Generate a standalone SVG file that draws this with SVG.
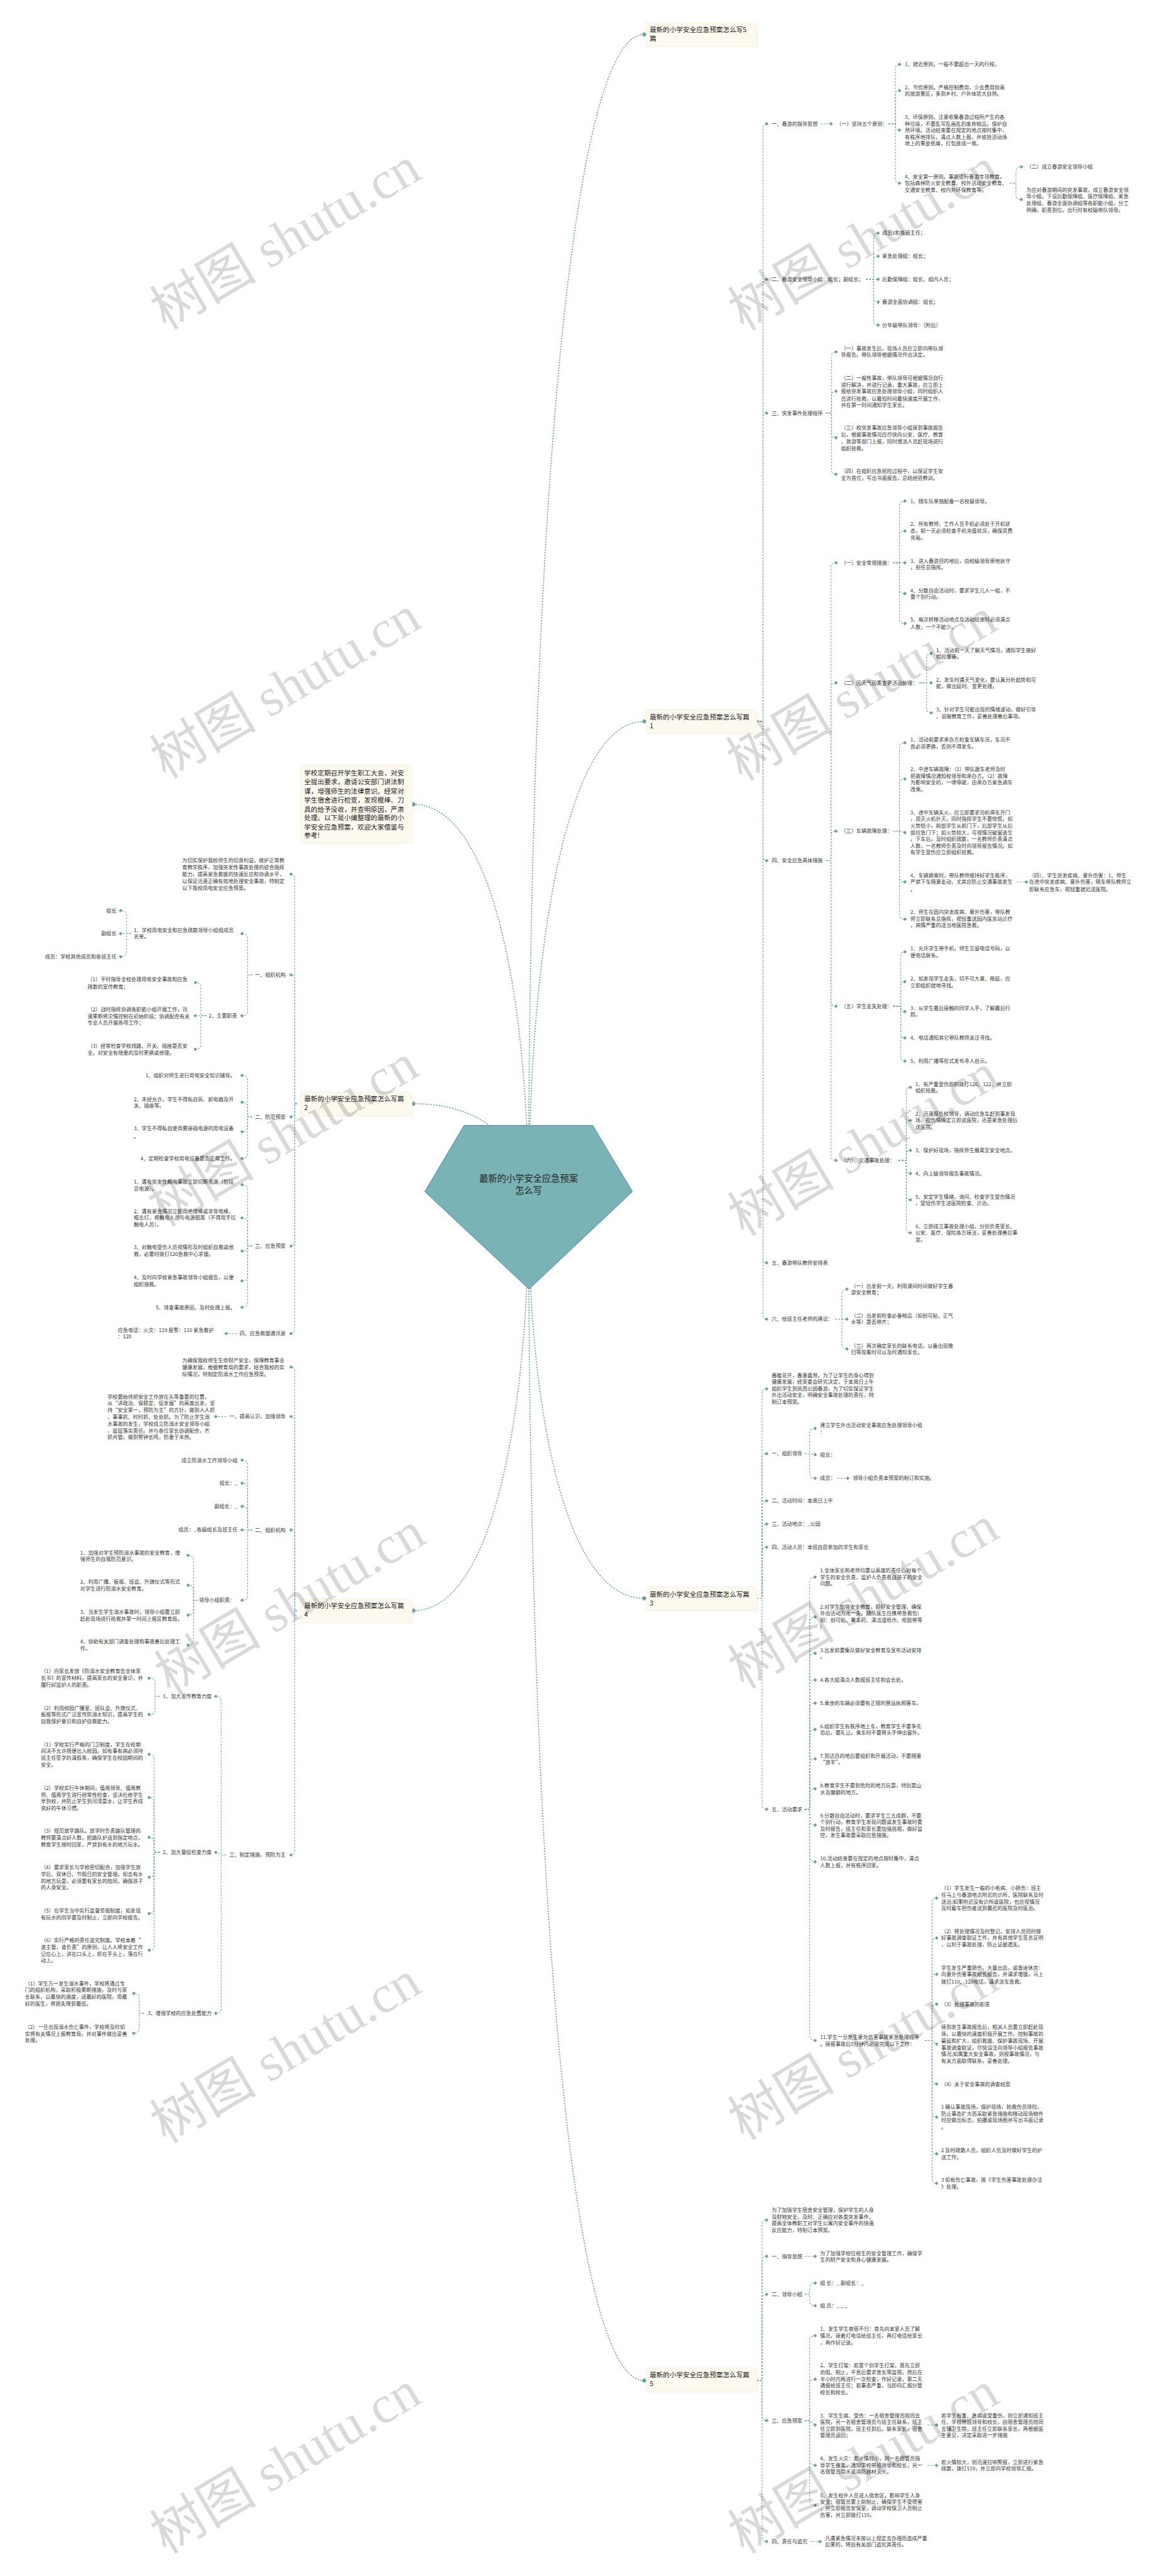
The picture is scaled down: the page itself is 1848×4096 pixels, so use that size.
<svg xmlns="http://www.w3.org/2000/svg" width="1848" height="4096" viewBox="0 0 1848 4096">
<style>
.t{font-family:"Noto Sans CJK SC","Noto Sans",sans-serif;font-size:11.3px;fill:#333}
.b{font-family:"Noto Sans CJK SC","Noto Sans",sans-serif;font-size:14.7px;fill:#222}
.c{font-family:"Noto Sans CJK SC","Noto Sans",sans-serif;font-size:19.8px;fill:#222;text-anchor:middle}
.e{text-anchor:end}
.box{fill:#fcf9ee;stroke:#eee7d2;stroke-width:1}
.w{font-family:"Liberation Serif","Noto Sans CJK SC",serif;font-size:118px;fill:#000;fill-opacity:.15;text-anchor:middle}
#connectors path{fill:none;stroke:#6a9fa0;stroke-width:1.4;stroke-dasharray:4 3;marker-end:url(#dm)}
#connectors #main path{stroke-width:2.2;stroke-dasharray:3 3;marker-end:url(#dM)}
</style>
<defs>
<marker id="dm" viewBox="-5 -5 10 10" refX="0" refY="0" markerWidth="8" markerHeight="8" markerUnits="userSpaceOnUse" orient="0"><path d="M0-5L5 0 0 5-5 0Z" fill="#6a9fa0"/></marker>
<marker id="dM" viewBox="-5 -5 10 10" refX="0" refY="0" markerWidth="11" markerHeight="11" markerUnits="userSpaceOnUse" orient="0"><path d="M0-5L5 0 0 5-5 0Z" fill="#6a9fa0"/></marker>
</defs>
<rect width="1848" height="4096" fill="#fff"/>
<g transform="scale(0.721)">
<g id="connectors">
<g id="main">
<path d="M1166 2660C1166 1368 1242 76 1421 76"/>
<path d="M1166 2660C1166 2126 1242 1591 1421 1591"/>
<path d="M1166 2660C1166 2217 1090 1774 912 1774"/>
<path d="M1166 2660C1166 2547 1090 2434 912 2434"/>
<path d="M1166 2660C1166 3093 1242 3525 1421 3525"/>
<path d="M1166 2660C1166 3106 1090 3552 912 3552"/>
<path d="M1166 2660C1166 3955 1242 5250 1421 5250"/>
</g>
<path d="M1670 1591H1683V283Q1683 273 1691 273"/>
<path d="M1670 1591H1683V626Q1683 616 1691 616"/>
<path d="M1670 1591H1683V921Q1683 911 1691 911"/>
<path d="M1670 1591H1683V1888Q1683 1898 1691 1898"/>
<path d="M1670 1591H1683V2775Q1683 2785 1691 2785"/>
<path d="M1670 1591H1683V2899Q1683 2909 1691 2909"/>
<path d="M1810 273H1833"/>
<path d="M1960 273H1975V152Q1975 142 1984 142"/>
<path d="M1960 273H1975V210Q1975 200 1984 200"/>
<path d="M1960 273H1975V277Q1975 287 1984 287"/>
<path d="M1960 273H1975V394Q1975 404 1984 404"/>
<path d="M2228 404H2241V378Q2241 368 2253 368"/>
<path d="M2228 404H2241V430Q2241 440 2253 440"/>
<path d="M1910 616H1927V524Q1927 514 1937 514"/>
<path d="M1910 616H1927V575Q1927 565 1937 565"/>
<path d="M1910 616H1937"/>
<path d="M1910 616H1927V656Q1927 666 1937 666"/>
<path d="M1910 616H1927V707Q1927 717 1937 717"/>
<path d="M1822 911H1834V786Q1834 776 1844 776"/>
<path d="M1822 911H1834V873Q1834 863 1844 863"/>
<path d="M1822 911H1834V955Q1834 965 1844 965"/>
<path d="M1822 911H1834V1036Q1834 1046 1844 1046"/>
<path d="M1822 1898H1833V1251Q1833 1241 1844 1241"/>
<path d="M1822 1898H1833V1516Q1833 1506 1844 1506"/>
<path d="M1822 1898H1833V1843Q1833 1833 1844 1833"/>
<path d="M1822 1898H1833V2209Q1833 2219 1844 2219"/>
<path d="M1822 1898H1833V2549Q1833 2559 1844 2559"/>
<path d="M1970 1241H1984V1115Q1984 1105 1996 1105"/>
<path d="M1970 1241H1984V1181Q1984 1171 1996 1171"/>
<path d="M1970 1241H1996"/>
<path d="M1970 1241H1984V1299Q1984 1309 1996 1309"/>
<path d="M1970 1241H1984V1365Q1984 1375 1996 1375"/>
<path d="M2028 1506H2044V1451Q2044 1441 2054 1441"/>
<path d="M2028 1506H2054"/>
<path d="M2028 1506H2044V1562Q2044 1572 2054 1572"/>
<path d="M1970 1833H1984V1648Q1984 1638 1996 1638"/>
<path d="M1970 1833H1984V1728Q1984 1718 1996 1718"/>
<path d="M1970 1833H1984L1996 1836"/>
<path d="M1970 1833H1984V1935Q1984 1945 1996 1945"/>
<path d="M1970 1833H1984V2017Q1984 2027 1996 2027"/>
<path d="M2243 1945H2264"/>
<path d="M1970 2219H1987V2109Q1987 2099 1996 2099"/>
<path d="M1970 2219H1987V2175Q1987 2165 1996 2165"/>
<path d="M1970 2219H1987V2221Q1987 2231 1996 2231"/>
<path d="M1970 2219H1987V2279Q1987 2289 1996 2289"/>
<path d="M1970 2219H1987V2330Q1987 2340 1996 2340"/>
<path d="M1982 2559H1999V2408Q1999 2398 2008 2398"/>
<path d="M1982 2559H1999V2481Q1999 2471 2008 2471"/>
<path d="M1982 2559H1999V2547Q1999 2537 2008 2537"/>
<path d="M1982 2559H1999V2578Q1999 2588 2008 2588"/>
<path d="M1982 2559H1999V2636Q1999 2646 2008 2646"/>
<path d="M1982 2559H1999V2709Q1999 2719 2008 2719"/>
<path d="M1842 2909H1857V2853Q1857 2843 1868 2843"/>
<path d="M1842 2909H1868"/>
<path d="M1842 2909H1857V2965Q1857 2975 1868 2975"/>
<path d="M1670 3525H1681V3073Q1681 3063 1691 3063"/>
<path d="M1670 3525H1681V3216Q1681 3206 1691 3206"/>
<path d="M1670 3525H1681V3320Q1681 3310 1691 3310"/>
<path d="M1670 3525H1681V3371Q1681 3361 1691 3361"/>
<path d="M1670 3525H1681V3422Q1681 3412 1691 3412"/>
<path d="M1670 3525H1681V3980Q1681 3990 1691 3990"/>
<path d="M1775 3206H1786V3160Q1786 3150 1798 3150"/>
<path d="M1775 3206H1786L1798 3208"/>
<path d="M1775 3206H1786V3250Q1786 3260 1798 3260"/>
<path d="M1847 3260H1870"/>
<path d="M1775 3990H1786V3488Q1786 3478 1798 3478"/>
<path d="M1775 3990H1786V3576Q1786 3566 1798 3566"/>
<path d="M1775 3990H1786V3656Q1786 3646 1798 3646"/>
<path d="M1775 3990H1786V3715Q1786 3705 1798 3705"/>
<path d="M1775 3990H1786V3766Q1786 3756 1798 3756"/>
<path d="M1775 3990H1786V3824Q1786 3814 1798 3814"/>
<path d="M1775 3990H1786V3889Q1786 3879 1798 3879"/>
<path d="M1775 3990H1786V3955Q1786 3945 1798 3945"/>
<path d="M1775 3990H1786V4015Q1786 4025 1798 4025"/>
<path d="M1775 3990H1786V4096Q1786 4106 1798 4106"/>
<path d="M1775 3990H1786V4490Q1786 4500 1798 4500"/>
<path d="M2040 4500H2056V4196Q2056 4186 2066 4186"/>
<path d="M2040 4500H2056V4284Q2056 4274 2066 4274"/>
<path d="M2040 4500H2056V4364Q2056 4354 2066 4354"/>
<path d="M2040 4500H2056V4430Q2056 4420 2066 4420"/>
<path d="M2040 4500H2056L2066 4508"/>
<path d="M2040 4500H2056V4586Q2056 4596 2066 4596"/>
<path d="M2040 4500H2056V4659Q2056 4669 2066 4669"/>
<path d="M2040 4500H2056V4740Q2056 4750 2066 4750"/>
<path d="M2040 4500H2056V4805Q2056 4815 2066 4815"/>
<path d="M1670 5250H1681V4906Q1681 4896 1691 4896"/>
<path d="M1670 5250H1681V4986Q1681 4976 1691 4976"/>
<path d="M1670 5250H1681V5070Q1681 5060 1691 5060"/>
<path d="M1670 5250H1681V5328Q1681 5338 1691 5338"/>
<path d="M1670 5250H1681V5595Q1681 5605 1691 5605"/>
<path d="M1775 4976H1798"/>
<path d="M1775 5060H1786V5045Q1786 5035 1798 5035"/>
<path d="M1775 5060H1786V5075Q1786 5085 1798 5085"/>
<path d="M1775 5338H1786V5161Q1786 5151 1798 5151"/>
<path d="M1775 5338H1786V5257Q1786 5247 1798 5247"/>
<path d="M1775 5338H1786L1798 5348"/>
<path d="M1775 5338H1786V5427Q1786 5437 1798 5437"/>
<path d="M1775 5338H1786V5515Q1786 5525 1798 5525"/>
<path d="M2046 5348H2066"/>
<path d="M2046 5437H2066"/>
<path d="M1787 5605H1809"/>
<path d="M655 2434H650V1938Q650 1928 642 1928"/>
<path d="M655 2434H650V2160Q650 2150 642 2150"/>
<path d="M655 2434H650V2453Q650 2463 642 2463"/>
<path d="M655 2434H650V2738Q650 2748 642 2748"/>
<path d="M655 2434H650V2931Q650 2941 642 2941"/>
<path d="M556 2150H546V2069Q546 2059 534 2059"/>
<path d="M556 2150H546V2230Q546 2240 534 2240"/>
<path d="M289 2059H279V2018Q279 2008 266 2008"/>
<path d="M289 2059H266"/>
<path d="M289 2059H279V2100Q279 2110 266 2110"/>
<path d="M455 2240H443V2177Q443 2167 431 2167"/>
<path d="M455 2240H431"/>
<path d="M455 2240H443V2304Q443 2314 431 2314"/>
<path d="M556 2463H546V2382Q546 2372 534 2372"/>
<path d="M556 2463H546V2441Q546 2431 534 2431"/>
<path d="M556 2463H546V2486Q546 2496 534 2496"/>
<path d="M556 2463H546V2545Q546 2555 534 2555"/>
<path d="M556 2748H546V2623Q546 2613 534 2613"/>
<path d="M556 2748H546V2696Q546 2686 534 2686"/>
<path d="M556 2748H546V2749Q546 2759 534 2759"/>
<path d="M556 2748H546V2815Q546 2825 534 2825"/>
<path d="M556 2748H546V2873Q546 2883 534 2883"/>
<path d="M522 2941H499"/>
<path d="M655 3552H650V3025Q650 3015 642 3015"/>
<path d="M655 3552H650V3134Q650 3124 642 3124"/>
<path d="M655 3552H650V3384Q650 3374 642 3374"/>
<path d="M655 3552H650V4081Q650 4091 642 4091"/>
<path d="M499 3124H476"/>
<path d="M556 3374H546V3230Q546 3220 534 3220"/>
<path d="M556 3374H546V3281Q546 3271 534 3271"/>
<path d="M556 3374H546V3332Q546 3322 534 3322"/>
<path d="M556 3374H534"/>
<path d="M556 3374H546V3519Q546 3529 534 3529"/>
<path d="M436 3529H427V3440Q427 3430 415 3430"/>
<path d="M436 3529H427V3506Q427 3496 415 3496"/>
<path d="M436 3529H427V3552Q427 3562 415 3562"/>
<path d="M436 3529H427V3618Q427 3628 415 3628"/>
<path d="M499 4091H488V3751Q488 3741 476 3741"/>
<path d="M499 4091H488L476 4085"/>
<path d="M499 4091H488V4430Q488 4440 476 4440"/>
<path d="M352 3741H342V3711Q342 3701 329 3701"/>
<path d="M352 3741H342V3771Q342 3781 329 3781"/>
<path d="M352 4085H340V3879Q340 3869 329 3869"/>
<path d="M352 4085H340V3974Q340 3964 329 3964"/>
<path d="M352 4085H340V4062Q340 4052 329 4052"/>
<path d="M352 4085H340V4130Q340 4140 329 4140"/>
<path d="M352 4085H340V4210Q340 4220 329 4220"/>
<path d="M352 4085H340V4291Q340 4301 329 4301"/>
<path d="M318 4440H307V4406Q307 4396 295 4396"/>
<path d="M318 4440H307V4474Q307 4484 295 4484"/>
</g>

<g id="n-center">
<path d="M1023.6 2482H1307.5L1395 2628L1167 2843L937 2628Z" fill="#7ab3b5" stroke="#3f74b5" stroke-width="1.2"/>
<text class="c" x="1166" y="2606">最新的小学安全应急预案</text>
<text class="c" x="1166" y="2632">怎么写</text>
</g>

<g id="n-intro">
<path class="box" d="M663 1687H901L909 1695V1860H663Z"/>
<text class="b"><tspan x="671" y="1710">学校定期召开学生职工大会，对安</tspan><tspan x="671" y="1730">全提出要求，邀请公安部门讲法制</tspan><tspan x="671" y="1750">课，增强师生的法律意识。经常对</tspan><tspan x="671" y="1770">学生宿舍进行检查，发现棍棒、刀</tspan><tspan x="671" y="1790">具的给予没收，并查明原因，严肃</tspan><tspan x="671" y="1809">处理。以下是小编整理的最新的小</tspan><tspan x="671" y="1829">学安全应急预案，欢迎大家借鉴与</tspan><tspan x="671" y="1848">参考!</tspan></text>
</g>

<g id="n-top">
<path class="box" d="M1426 50H1662L1670 58V103H1426Z"/>
<text class="b"><tspan x="1433" y="71">最新的小学安全应急预案怎么写5</tspan><tspan x="1433" y="90.5">篇</tspan></text>
</g>

<g id="n-p1">
<path class="box" d="M1426 1565H1662L1670 1573V1617H1426Z"/>
<text class="b"><tspan x="1433" y="1586">最新的小学安全应急预案怎么写篇</tspan><tspan x="1433" y="1605.5">1</tspan></text>
</g>
<g id="n-p1-1"><text class="t" x="1702" y="277">一、春游的指导思想</text></g>
<g id="n-p1-1-1"><text class="t" x="1845" y="277">（一）坚持五个原则：</text></g>
<g id="n-p1-1-1-1"><text class="t" x="1996" y="146">1、就近原则。一般不要超出一天的行程。</text></g>
<g id="n-p1-1-1-2"><text class="t"><tspan x="1996" y="197">2、节俭原则。严格控制费用，少去费用较高</tspan><tspan x="1996" y="211">的旅游景区，多到乡村、户外体验大自然。</tspan></text></g>
<g id="n-p1-1-1-3"><text class="t"><tspan x="1996" y="262">3、环保原则。注意收集春游过程所产生的各</tspan><tspan x="1996" y="277">种垃圾，不要乱写乱画乱扔废弃物品，保护自</tspan><tspan x="1996" y="291">然环境。活动结束要在规定的地点按时集中，</tspan><tspan x="1996" y="306">有秩序地排队，清点人数上报，并收拾活动场</tspan><tspan x="1996" y="320">地上的果皮纸屑，打包放成一堆。</tspan></text></g>
<g id="n-p1-1-1-4"><text class="t"><tspan x="1996" y="394">4、安全第一原则。事前进行春游专项教育，</tspan><tspan x="1996" y="408">包括森林防火安全教育、校外活动安全教育、</tspan><tspan x="1996" y="423">交通安全教育、校内外环保教育等。</tspan></text></g>
<g id="n-p1-1-1-4-1"><text class="t" x="2264" y="372">（二）成立春游安全领导小组</text></g>
<g id="n-p1-1-1-4-2"><text class="t"><tspan x="2264" y="423">为应对春游期间的突发事故，成立春游安全领</tspan><tspan x="2264" y="437">导小组。下设后勤保障组、医疗保障组、紧急</tspan><tspan x="2264" y="452">处理组、春游全面协调组等各职能小组，分工</tspan><tspan x="2264" y="467">明确，职责到位。出行时有校级带队领导。</tspan></text></g>
<g id="n-p1-2"><text class="t" x="1702" y="620">二、春游安全领导小组：组长；副组长；</text></g>
<g id="n-p1-2-1"><text class="t" x="1946" y="518">成员z和各班主任；</text></g>
<g id="n-p1-2-2"><text class="t" x="1946" y="569">紧急处理组：组长；</text></g>
<g id="n-p1-2-3"><text class="t" x="1946" y="620">后勤保障组：组长，组内人员；</text></g>
<g id="n-p1-2-4"><text class="t" x="1946" y="670">春游全面协调组：组长；</text></g>
<g id="n-p1-2-5"><text class="t" x="1946" y="721">分年级带队领导：（附后）</text></g>
<g id="n-p1-3"><text class="t" x="1702" y="915">三、突发事件处理程序</text></g>
<g id="n-p1-3-1"><text class="t"><tspan x="1855" y="772">（一）事故发生后，现场人员应立即向带队领</tspan><tspan x="1855" y="787">导报告。带队领导根据情况作出决定。</tspan></text></g>
<g id="n-p1-3-2"><text class="t"><tspan x="1855" y="838">（二）一般性事故，带队领导可根据情况自行</tspan><tspan x="1855" y="853">进行解决，并进行记录。重大事故，应立即上</tspan><tspan x="1855" y="867">报给突发事故应急处理领导小组，同时组织人</tspan><tspan x="1855" y="883">员进行抢救，以最短时间最快速度开展工作，</tspan><tspan x="1855" y="897">并在第一时间通知学生家长。</tspan></text></g>
<g id="n-p1-3-3"><text class="t"><tspan x="1855" y="947">（三）校突发事故应急领导小组接到事故报告</tspan><tspan x="1855" y="963">后，根据事故情况应尽快向公安、医疗、教育</tspan><tspan x="1855" y="978">、旅游等部门上报，同时增派人员赶现场进行</tspan><tspan x="1855" y="993">组织抢救。</tspan></text></g>
<g id="n-p1-3-4"><text class="t"><tspan x="1855" y="1043">（四）在组织应急抢险过程中，以保证学生安</tspan><tspan x="1855" y="1058">全为首位，写出书面报告，总结经验教训。</tspan></text></g>
<g id="n-p1-4"><text class="t" x="1702" y="1902">四、安全应急具体措施</text></g>
<g id="n-p1-4-1"><text class="t" x="1855" y="1245">（一）安全常规措施：</text></g>
<g id="n-p1-4-1-1"><text class="t" x="2008" y="1109">1、随车队单独配备一名校级领导。</text></g>
<g id="n-p1-4-1-2"><text class="t"><tspan x="2008" y="1160">2、所有教师、工作人员手机必须处于开机状</tspan><tspan x="2008" y="1175">态，前一天必须检查手机充值状况，确保资费</tspan><tspan x="2008" y="1190">充裕。</tspan></text></g>
<g id="n-p1-4-1-3"><text class="t"><tspan x="2008" y="1241">3、进入春游目的地后，由校级领导原地执守</tspan><tspan x="2008" y="1255">，担任总指挥。</tspan></text></g>
<g id="n-p1-4-1-4"><text class="t"><tspan x="2008" y="1306">4、分散自由活动时，要求学生几人一组，不</tspan><tspan x="2008" y="1321">要个别行动。</tspan></text></g>
<g id="n-p1-4-1-5"><text class="t"><tspan x="2008" y="1371">5、每次转移活动地点及活动结束时必须清点</tspan><tspan x="2008" y="1387">人数，一个不能少。</tspan></text></g>
<g id="n-p1-4-2"><text class="t" x="1855" y="1510">（二）因天气因素变更活动处理：</text></g>
<g id="n-p1-4-2-1"><text class="t"><tspan x="2065" y="1438">1、活动前一天了解天气情况，通知学生做好</tspan><tspan x="2065" y="1452">相应准备。</tspan></text></g>
<g id="n-p1-4-2-2"><text class="t"><tspan x="2065" y="1503">2、发车时遇天气变化，要认真分析趋势和可</tspan><tspan x="2065" y="1518">能，做出延时、变更处理。</tspan></text></g>
<g id="n-p1-4-2-3"><text class="t"><tspan x="2065" y="1569">3、针对学生可能出现的情绪波动，做好引导</tspan><tspan x="2065" y="1584">、说服教育工作，妥善处理善后事项。</tspan></text></g>
<g id="n-p1-4-3"><text class="t" x="1855" y="1837">（三）车辆故障处理：</text></g>
<g id="n-p1-4-3-1"><text class="t"><tspan x="2008" y="1635">1、活动前要求承办方检查车辆车况，车况不</tspan><tspan x="2008" y="1650">良必须更换，否则不得发车。</tspan></text></g>
<g id="n-p1-4-3-2"><text class="t"><tspan x="2008" y="1700">2、中途车辆故障：（1）带队跟车老师及时</tspan><tspan x="2008" y="1715">把故障情况通知校领导和承办方。（2）故障</tspan><tspan x="2008" y="1730">为影响安全的，一律停驶，由承办方紧急调车</tspan><tspan x="2008" y="1745">改乘。</tspan></text></g>
<g id="n-p1-4-3-3"><text class="t"><tspan x="2008" y="1796">3、途中车辆失火，应立即要求司机停车开门</tspan><tspan x="2008" y="1810">，用灭火机扑灭。同时指挥学生不要惊慌，如</tspan><tspan x="2008" y="1825">火势较小，前部学生从前门下，后部学生从后</tspan><tspan x="2008" y="1840">部应急门下；如火势较大，可视情况破窗逃生</tspan><tspan x="2008" y="1854">。下车后，及时组织疏散，一名教师负责清点</tspan><tspan x="2008" y="1869">人数，一名教师负责及时向领导报告情况。如</tspan><tspan x="2008" y="1884">有学生受伤应立即组织抢救。</tspan></text></g>
<g id="n-p1-4-3-4"><text class="t"><tspan x="2008" y="1935">4、车辆换乘时，带队教师维持好学生秩序，</tspan><tspan x="2008" y="1949">严禁下车随意走动，尤其应防止交通事故发生</tspan><tspan x="2008" y="1965">。</tspan></text></g>
<g id="n-p1-4-3-4-1"><text class="t"><tspan x="2270" y="1935">（四）、学生突发疾病、意外伤害：1、师生</tspan><tspan x="2270" y="1949">在途中突发疾病、意外伤害，随车带队教师立</tspan><tspan x="2270" y="1965">即联系应急车，视轻重就近送医院。</tspan></text></g>
<g id="n-p1-4-3-5"><text class="t"><tspan x="2008" y="2015">2、师生在园内突发疾病、意外伤害，带队教</tspan><tspan x="2008" y="2031">师立即联系总指挥，视轻重送园内医务站诊疗</tspan><tspan x="2008" y="2045">，病情严重的送当地医院急救。</tspan></text></g>
<g id="n-p1-4-5"><text class="t" x="1855" y="2223">（五）学生走失处理：</text></g>
<g id="n-p1-4-5-1"><text class="t"><tspan x="2008" y="2096">1、允许学生带手机，师生互留电话号码，以</tspan><tspan x="2008" y="2111">便电话联系。</tspan></text></g>
<g id="n-p1-4-5-2"><text class="t"><tspan x="2008" y="2162">2、如发现学生走失，切不可大意、拖延，应</tspan><tspan x="2008" y="2177">立即组织就地寻找。</tspan></text></g>
<g id="n-p1-4-5-3"><text class="t"><tspan x="2008" y="2228">3、从学生最后接触的同学入手，了解最后行</tspan><tspan x="2008" y="2242">踪。</tspan></text></g>
<g id="n-p1-4-5-4"><text class="t" x="2008" y="2293">4、电话通知其它带队教师关注寻找。</text></g>
<g id="n-p1-4-5-5"><text class="t" x="2008" y="2344">5、利用广播等形式发布寻人启示。</text></g>
<g id="n-p1-4-6"><text class="t" x="1855" y="2563">（六）、交通事故处理：</text></g>
<g id="n-p1-4-6-1"><text class="t"><tspan x="2019" y="2395">1、有严重受伤即刻拨打120、122，并立即</tspan><tspan x="2019" y="2409">组织抢救。</tspan></text></g>
<g id="n-p1-4-6-2"><text class="t"><tspan x="2019" y="2460">2、迅速报告校领导，调动应急车赶到事发现</tspan><tspan x="2019" y="2475">场，视伤情确定立即送医院，还是紧急处理后</tspan><tspan x="2019" y="2490">送医院。</tspan></text></g>
<g id="n-p1-4-6-3"><text class="t" x="2019" y="2541">3、保护好现场，指挥师生撤离至安全地点。</text></g>
<g id="n-p1-4-6-4"><text class="t" x="2019" y="2592">4、向上级领导报告事故情况。</text></g>
<g id="n-p1-4-6-5"><text class="t"><tspan x="2019" y="2643">5、安定学生情绪，询问、检查学生受伤情况</tspan><tspan x="2019" y="2658">，受轻伤学生送医院检查、诊治。</tspan></text></g>
<g id="n-p1-4-6-6"><text class="t"><tspan x="2019" y="2709">6、立即成立事故处理小组，分别负责家长、</tspan><tspan x="2019" y="2723">公安、医疗、保险各方接洽，妥善处理善后事</tspan><tspan x="2019" y="2738">宜。</tspan></text></g>
<g id="n-p1-5"><text class="t" x="1702" y="2789">五、春游带队教师安排表</text></g>
<g id="n-p1-6"><text class="t" x="1702" y="2913">六、给班主任老师的建议：</text></g>
<g id="n-p1-6-1"><text class="t"><tspan x="1877" y="2840">（一）出发前一天，利用课间时间做好学生春</tspan><tspan x="1877" y="2854">游安全教育；</tspan></text></g>
<g id="n-p1-6-2"><text class="t"><tspan x="1877" y="2905">（二）出发前检查必备物品（如创可贴、正气</tspan><tspan x="1877" y="2920">水等）是否带齐；</tspan></text></g>
<g id="n-p1-6-3"><text class="t"><tspan x="1877" y="2972">（三）再次确定家长的联系电话，以备出现晚</tspan><tspan x="1877" y="2986">归等现象时可以及时通知家长。</tspan></text></g>

<g id="n-p3">
<path class="box" d="M1426 3500H1662L1670 3508V3552H1426Z"/>
<text class="b"><tspan x="1433" y="3521">最新的小学安全应急预案怎么写篇</tspan><tspan x="1433" y="3540.5">3</tspan></text>
</g>
<g id="n-p3-0"><text class="t"><tspan x="1702" y="3037">春暖花开，春意盎然，为了让学生的身心得到</tspan><tspan x="1702" y="3052">健康发展，经家委会研究决定，于本周日上午</tspan><tspan x="1702" y="3067">组织学生到凤西公园春游，为了切实保证学生</tspan><tspan x="1702" y="3081">外出活动安全，明确安全事故处理的责任，特</tspan><tspan x="1702" y="3096">制订本预案。</tspan></text></g>
<g id="n-p3-1"><text class="t" x="1702" y="3210">一、组织领导</text></g>
<g id="n-p3-1-1"><text class="t"><tspan x="1809" y="3147">建立学生外出活动安全事故应急处理领导小组</tspan><tspan x="1809" y="3162">：</tspan></text></g>
<g id="n-p3-1-2"><text class="t" x="1809" y="3212">组长：</text></g>
<g id="n-p3-1-3"><text class="t" x="1809" y="3264">成员：</text></g>
<g id="n-p3-1-3-1"><text class="t" x="1881" y="3264">领导小组负责本预案的制订和实施。</text></g>
<g id="n-p3-2"><text class="t" x="1702" y="3314">二、活动时间：本周日上午</text></g>
<g id="n-p3-3"><text class="t" x="1702" y="3365">三、活动地点：_公园</text></g>
<g id="n-p3-4"><text class="t" x="1702" y="3416">四、活动人员：本班自愿参加的学生和家长</text></g>
<g id="n-p3-5"><text class="t" x="1702" y="3994">五、活动要求</text></g>
<g id="n-p3-5-1"><text class="t"><tspan x="1809" y="3467">1.全体家长和老师均要以高度的责任心对每个</tspan><tspan x="1809" y="3482">学生的安全负责，监护人负责各自孩子的安全</tspan><tspan x="1809" y="3497">问题。</tspan></text></g>
<g id="n-p3-5-2"><text class="t"><tspan x="1809" y="3548">2.对学生加强安全教育，抓好安全管理，确保</tspan><tspan x="1809" y="3562">外出活动万无一失。随队医生应携带急救包(</tspan><tspan x="1809" y="3577">如：创可贴、晕车药、清洁湿纸巾、纸胶带等</tspan><tspan x="1809" y="3592">)</tspan></text></g>
<g id="n-p3-5-3"><text class="t"><tspan x="1809" y="3643">3.出发前要集队做好安全教育及宣布活动安排</tspan><tspan x="1809" y="3658">。</tspan></text></g>
<g id="n-p3-5-4"><text class="t" x="1809" y="3709">4.各大组清点人数报班主任和会长处。</text></g>
<g id="n-p3-5-5"><text class="t" x="1809" y="3760">5.乘坐的车辆必须要有正规的营运执照客车。</text></g>
<g id="n-p3-5-6"><text class="t"><tspan x="1809" y="3811">6.组织学生有秩序地上车，教育学生不要争先</tspan><tspan x="1809" y="3825">恐后，要礼让。乘车时不要将头手伸出窗外。</tspan></text></g>
<g id="n-p3-5-7"><text class="t"><tspan x="1809" y="3876">7.到达目的地后要组织和开展活动，不要随意</tspan><tspan x="1809" y="3891">“放羊”。</tspan></text></g>
<g id="n-p3-5-8"><text class="t"><tspan x="1809" y="3942">8.教育学生不要到危险的地方玩耍，特别是山</tspan><tspan x="1809" y="3957">水及偏僻的地方。</tspan></text></g>
<g id="n-p3-5-9"><text class="t"><tspan x="1809" y="4008">9.分散自由活动时，要求学生三五成群，不要</tspan><tspan x="1809" y="4022">个别行动，教育学生发现问题或发生事故时要</tspan><tspan x="1809" y="4037">及时报告，班主任和家长要加强巡视，做好监</tspan><tspan x="1809" y="4052">控，发生事故要采取应急措施。</tspan></text></g>
<g id="n-p3-5-10"><text class="t"><tspan x="1809" y="4103">10.活动结束要在规定的地点按时集中，清点</tspan><tspan x="1809" y="4118">人数上报，并有秩序回家。</tspan></text></g>
<g id="n-p3-5-11"><text class="t"><tspan x="1809" y="4497">11.学生一旦发生意外伤害事故紧急处理程序</tspan><tspan x="1809" y="4512">。接报事故后5分钟内必须完成以下工作：</tspan></text></g>
<g id="n-p3-5-11-1"><text class="t"><tspan x="2076" y="4168">（1）学生发生一般的小毛病、小损伤：班主</tspan><tspan x="2076" y="4183">任马上与春游地点附近的诊所、医院联系及时</tspan><tspan x="2076" y="4198">送治;如果附近没有诊所或医院，也应视情况</tspan><tspan x="2076" y="4212">及时雇车把伤者送到最近的医院及时医治。</tspan></text></g>
<g id="n-p3-5-11-2"><text class="t"><tspan x="2076" y="4263">（2）将处理情况及时登记，安排人员同时做</tspan><tspan x="2076" y="4278">好事故调查取证工作，并有其他学生签名证明</tspan><tspan x="2076" y="4293">，以利于事故处理，防止证据遗失。</tspan></text></g>
<g id="n-p3-5-11-3"><text class="t"><tspan x="2076" y="4344">学生发生严重损伤，大量出血，或昏迷休克：</tspan><tspan x="2076" y="4358">向意外伤害事故组长报告，并请求增援。马上</tspan><tspan x="2076" y="4374">拨打110、120电话，请求派车急救。</tspan></text></g>
<g id="n-p3-5-11-4"><text class="t" x="2076" y="4424">（3）处理事故的职责</text></g>
<g id="n-p3-5-11-5"><text class="t"><tspan x="2076" y="4475">接到发生事故报告后，相关人员要立即赶赴现</tspan><tspan x="2076" y="4490">场，以最快的速度积极开展工作，控制事故的</tspan><tspan x="2076" y="4505">蔓延和扩大，组织救援、保护事故现场、开展</tspan><tspan x="2076" y="4520">事故调查取证，尽快设法向领导小组报告事故</tspan><tspan x="2076" y="4534">情况;如属重大安全事故，则视事故情况，与</tspan><tspan x="2076" y="4549">有关方面取得联系，妥善处理。</tspan></text></g>
<g id="n-p3-5-11-6"><text class="t" x="2076" y="4600">（4）关于安全事故的调查结案</text></g>
<g id="n-p3-5-11-7"><text class="t"><tspan x="2076" y="4651">1 确认事故现场，保护现场，抢救伤员排险，</tspan><tspan x="2076" y="4666">防止事态扩大而采取紧急措施和移动现场物件</tspan><tspan x="2076" y="4680">时应做出标志，拍摄或现场图并写出书面记录</tspan><tspan x="2076" y="4695">。</tspan></text></g>
<g id="n-p3-5-11-8"><text class="t"><tspan x="2076" y="4746">2 及时疏散人员，组织人员及时做好学生的护</tspan><tspan x="2076" y="4761">送工作。</tspan></text></g>
<g id="n-p3-5-11-9"><text class="t"><tspan x="2076" y="4812">3 如有伤亡事故，按《学生伤害事故处理办法</tspan><tspan x="2076" y="4827">》处理。</tspan></text></g>

<g id="n-p5">
<path class="box" d="M1426 5222H1662L1670 5230V5275H1426Z"/>
<text class="b"><tspan x="1433" y="5243">最新的小学安全应急预案怎么写篇</tspan><tspan x="1433" y="5262.5">5</tspan></text>
</g>
<g id="n-p5-0"><text class="t"><tspan x="1702" y="4878">为了加强学生宿舍安全管理，保护学生的人身</tspan><tspan x="1702" y="4893">及财物安全，及时、正确应对各类突发事件，</tspan><tspan x="1702" y="4907">提高全体教职工对学生公寓内安全事件的快速</tspan><tspan x="1702" y="4922">反应能力，特制订本预案。</tspan></text></g>
<g id="n-p5-1"><text class="t" x="1702" y="4980">一、指导思想</text></g>
<g id="n-p5-1-1"><text class="t"><tspan x="1809" y="4973">为了加强学校住校生的安全管理工作，确保学</tspan><tspan x="1809" y="4988">生的财产安全和身心健康发展。</tspan></text></g>
<g id="n-p5-2"><text class="t" x="1702" y="5064">二、领导小组</text></g>
<g id="n-p5-2-1"><text class="t" x="1809" y="5039">组 长：_ 副组长：_</text></g>
<g id="n-p5-2-2"><text class="t" x="1809" y="5089">组 员：_ _ _</text></g>
<g id="n-p5-3"><text class="t" x="1702" y="5342">三、应急预案</text></g>
<g id="n-p5-3-1"><text class="t"><tspan x="1809" y="5140">1、发生学生夜宿不归：首先向本室人员了解</tspan><tspan x="1809" y="5155">情况，接着打电话给班主任，再打电话给家长</tspan><tspan x="1809" y="5170">，再作好记录。</tspan></text></g>
<g id="n-p5-3-2"><text class="t"><tspan x="1809" y="5221">2、学生打架：若是个别学生打架，首先立即</tspan><tspan x="1809" y="5236">劝阻、制止，平息后要求舍长等监视，然后在</tspan><tspan x="1809" y="5251">半小时内再进行一次检查，作好记录，第二天</tspan><tspan x="1809" y="5265">通报给班主任；若事态严重，当即向汇报分管</tspan><tspan x="1809" y="5280">校长和校长。</tspan></text></g>
<g id="n-p5-3-3"><text class="t"><tspan x="1809" y="5331">3、学生生病、受伤：一名宿舍管理员陪同去</tspan><tspan x="1809" y="5346">医院，另一名宿舍管理员与班主任联系，班主</tspan><tspan x="1809" y="5360">任立即到医院，班主任到后，联系家长，宿舍</tspan><tspan x="1809" y="5375">管理员返回；</tspan></text></g>
<g id="n-p5-3-3-1"><text class="t"><tspan x="2076" y="5331">若学生有重、急病或受重伤，则立即通知班主</tspan><tspan x="2076" y="5346">任、学校带班领导和校长，由宿舍管理员陪同</tspan><tspan x="2076" y="5360">去镇卫生院，班主任立即联系家长，再根据医</tspan><tspan x="2076" y="5375">生意见，决定采取进一步措施</tspan></text></g>
<g id="n-p5-3-4"><text class="t"><tspan x="1809" y="5426">4、发生火灾：若火情较小，则一名宿管员指</tspan><tspan x="1809" y="5441">导学生撤离，通知学校带班领导和校长，另一</tspan><tspan x="1809" y="5455">名宿管员用水或消防器材灭火。</tspan></text></g>
<g id="n-p5-3-4-1"><text class="t"><tspan x="2076" y="5434">若火情较大，则迅速拉响警报，立即进行紧急</tspan><tspan x="2076" y="5448">疏散，拨打119，并立即向学校领导汇报。</tspan></text></g>
<g id="n-p5-3-5"><text class="t"><tspan x="1809" y="5507">5、发生校外人员进入宿舍区，影响学生人身</tspan><tspan x="1809" y="5521">安全：宿管员要上前制止，确保学生不受侵害</tspan><tspan x="1809" y="5536">，并立即报告安保室，调动学校保卫人员制止</tspan><tspan x="1809" y="5551">伤害，并立即拨打110。</tspan></text></g>
<g id="n-p5-4"><text class="t" x="1702" y="5609">四、责任与追究</text></g>
<g id="n-p5-4-1"><text class="t"><tspan x="1820" y="5602">凡遇紧急情况未按以上规定去办理而造成严重</tspan><tspan x="1820" y="5616">后果的，将由有关部门追究其责任。</tspan></text></g>

<g id="n-p2">
<path class="box" d="M663 2408H901L909 2416V2461H663Z"/>
<text class="b"><tspan x="671" y="2429">最新的小学安全应急预案怎么写篇</tspan><tspan x="671" y="2448.5">2</tspan></text>
</g>
<g id="n-p2-0"><text class="t"><tspan x="402" y="1902">为切实保护我校师生的切身利益，维护正常教</tspan><tspan x="402" y="1917">育教学秩序，加强突发性事故处理的综合指挥</tspan><tspan x="402" y="1932">能力，提高紧急救援的快速反应和协调水平，</tspan><tspan x="402" y="1947">以保证迅速正确有效地处理安全事故，特制定</tspan><tspan x="402" y="1962">以下我校用电安全应急预案。</tspan></text></g>
<g id="n-p2-1"><text class="t e" x="630" y="2154">一、组织机构</text></g>
<g id="n-p2-1-1"><text class="t"><tspan x="295" y="2056">1、学校用电安全和应急疏散领导小组组成员</tspan><tspan x="295" y="2070">名单。</tspan></text></g>
<g id="n-p2-1-1-1"><text class="t e" x="257" y="2012">组长</text></g>
<g id="n-p2-1-1-2"><text class="t e" x="257" y="2063">副组长</text></g>
<g id="n-p2-1-1-3"><text class="t e" x="257" y="2114">成员：学校其他成员和各班主任</text></g>
<g id="n-p2-1-2"><text class="t e" x="523" y="2244">2、主要职责</text></g>
<g id="n-p2-1-2-1"><text class="t"><tspan x="193" y="2164">（1）平时指导全校处理用电安全事故和应急</tspan><tspan x="193" y="2180">疏散的宣传教育；</tspan></text></g>
<g id="n-p2-1-2-2"><text class="t"><tspan x="193" y="2230">（2）战时指挥协调各职能小组开展工作，迅</tspan><tspan x="193" y="2245">速果断将灾情控制在初始阶段；协调配合有关</tspan><tspan x="193" y="2260">专业人员开展各项工作；</tspan></text></g>
<g id="n-p2-1-2-3"><text class="t"><tspan x="193" y="2310">（3）经常检查学校线路、开关、插座是否安</tspan><tspan x="193" y="2326">全。对安全有隐患的及时更换或修理。</tspan></text></g>
<g id="n-p2-2"><text class="t e" x="630" y="2467">二、防范预案</text></g>
<g id="n-p2-2-1"><text class="t e" x="519" y="2376">1、组织对师生进行用电安全知识辅导。</text></g>
<g id="n-p2-2-2"><text class="t"><tspan x="295" y="2428">2、未经允许，学生不得私自拆、卸电器及开</tspan><tspan x="295" y="2442">关、插座等。</tspan></text></g>
<g id="n-p2-2-3"><text class="t"><tspan x="295" y="2493">3、学生不得私自使用需接插电源的用电设备</tspan><tspan x="295" y="2510">。</tspan></text></g>
<g id="n-p2-2-4"><text class="t e" x="519" y="2559">4、定期检查学校用电设备是否正常工作。</text></g>
<g id="n-p2-3"><text class="t e" x="630" y="2752">三、应急预案</text></g>
<g id="n-p2-3-1"><text class="t"><tspan x="295" y="2610">1、遇有突发性触电事故立即切断电源（包括</tspan><tspan x="295" y="2625">总电源）。</tspan></text></g>
<g id="n-p2-3-2"><text class="t"><tspan x="295" y="2675">2、遇有紧急情况立即用绝缘棒或非导电棒、</tspan><tspan x="295" y="2690">棍击打，将触电人员与电源脱离（不得用手拉</tspan><tspan x="295" y="2705">触电人员）。</tspan></text></g>
<g id="n-p2-3-3"><text class="t"><tspan x="295" y="2755">3、对触电受伤人员视情形及时组织自救或他</tspan><tspan x="295" y="2770">救，必要时拨打120急救中心求援。</tspan></text></g>
<g id="n-p2-3-4"><text class="t"><tspan x="295" y="2821">4、及时向学校紧急事故领导小组报告，以便</tspan><tspan x="295" y="2836">组织施救。</tspan></text></g>
<g id="n-p2-3-5"><text class="t e" x="519" y="2887">5、排查事故原因，及时处理上报。</text></g>
<g id="n-p2-4"><text class="t e" x="630" y="2945">四、应急救援通讯录</text></g>
<g id="n-p2-4-1"><text class="t"><tspan x="260" y="2937">应急电话：火灾：119 报警：110 紧急救护</tspan><tspan x="260" y="2952">：120</tspan></text></g>

<g id="n-p4">
<path class="box" d="M663 3526H901L909 3534V3579H663Z"/>
<text class="b"><tspan x="671" y="3547">最新的小学安全应急预案怎么写篇</tspan><tspan x="671" y="3566.5">4</tspan></text>
</g>
<g id="n-p4-0"><text class="t"><tspan x="402" y="3004">为确保我校师生生命财产安全，保障教育事业</tspan><tspan x="402" y="3019">健康发展，根据教育局的要求，结合我校的实</tspan><tspan x="402" y="3034">际情况，特制定防溺水工作应急预案。</tspan></text></g>
<g id="n-p4-1"><text class="t e" x="630" y="3128">一、提高认识，加强领导</text></g>
<g id="n-p4-1-1"><text class="t"><tspan x="237" y="3085">学校要始终把安全工作放在头等重要的位置，</tspan><tspan x="237" y="3099">从“讲政治、保稳定、促发展”的高度出发，坚</tspan><tspan x="237" y="3114">持“安全第一，预防为主”的方针，做到人人抓</tspan><tspan x="237" y="3129">、事事抓、时时抓、处处抓。为了防止学生溺</tspan><tspan x="237" y="3144">水事故的发生，学校成立防溺水安全领导小组</tspan><tspan x="237" y="3159">，层层落实责任。并与各位家长协调配合，齐</tspan><tspan x="237" y="3173">抓共管。做到警钟长鸣，防患于未然。</tspan></text></g>
<g id="n-p4-2"><text class="t e" x="630" y="3378">二、组织机构</text></g>
<g id="n-p4-2-1"><text class="t e" x="524" y="3224">成立防溺水工作领导小组</text></g>
<g id="n-p4-2-2"><text class="t e" x="524" y="3275">组长：_</text></g>
<g id="n-p4-2-3"><text class="t e" x="524" y="3326">副组长：_</text></g>
<g id="n-p4-2-4"><text class="t e" x="524" y="3377">组员：_各级组长及班主任</text></g>
<g id="n-p4-2-5"><text class="t e" x="518" y="3533">领导小组职责：</text></g>
<g id="n-p4-2-5-1"><text class="t"><tspan x="177" y="3428">1、加强对学生预防溺水事故的安全教育，增</tspan><tspan x="177" y="3443">强师生的自我防范意识。</tspan></text></g>
<g id="n-p4-2-5-2"><text class="t"><tspan x="177" y="3493">2、利用广播、板报、班会、升旗仪式等形式</tspan><tspan x="177" y="3508">对学生进行防溺水安全教育。</tspan></text></g>
<g id="n-p4-2-5-3"><text class="t"><tspan x="177" y="3559">3、当发生学生溺水事故时，领导小组要立即</tspan><tspan x="177" y="3574">赶赴现场进行抢救并第一时间上报区教育局。</tspan></text></g>
<g id="n-p4-2-5-4"><text class="t"><tspan x="177" y="3624">4、协助有关部门调查处理和事故善后处理工</tspan><tspan x="177" y="3639">作。</tspan></text></g>
<g id="n-p4-3"><text class="t e" x="630" y="4095">三、制定措施，预防为主</text></g>
<g id="n-p4-3-1"><text class="t e" x="467" y="3745">1、加大宣传教育力度</text></g>
<g id="n-p4-3-1-1"><text class="t"><tspan x="90" y="3690">（1）向家长发放《防溺水安全教育告全体家</tspan><tspan x="90" y="3705">长书》的宣传材料，提高家长的安全意识，并</tspan><tspan x="90" y="3720">履行好监护人的职责。</tspan></text></g>
<g id="n-p4-3-1-2"><text class="t"><tspan x="90" y="3771">（2）利用校园广播室、班队会、升旗仪式、</tspan><tspan x="90" y="3785">板报等形式广泛宣传防溺水知识，提高学生的</tspan><tspan x="90" y="3800">自我保护意识和自护自救能力。</tspan></text></g>
<g id="n-p4-3-2"><text class="t e" x="467" y="4089">2、加大督促检查力度</text></g>
<g id="n-p4-3-2-1"><text class="t"><tspan x="90" y="3851">（1）学校实行严格的门卫制度，学生在校期</tspan><tspan x="90" y="3866">间决不允许随便出入校园。如有事有病必须持</tspan><tspan x="90" y="3881">班主任签字的请假条，确保学生在校园期间的</tspan><tspan x="90" y="3896">安全。</tspan></text></g>
<g id="n-p4-3-2-2"><text class="t"><tspan x="90" y="3947">（2）学校实行午休期间，值周领导、值周教</tspan><tspan x="90" y="3962">师、值周学生进行经常性检查，坚决杜绝学生</tspan><tspan x="90" y="3976">早到校，并防止学生到河湾耍水，让学生养成</tspan><tspan x="90" y="3991">良好的午休习惯。</tspan></text></g>
<g id="n-p4-3-2-3"><text class="t"><tspan x="90" y="4042">（3）规范放学路队。放学时负责路队管理的</tspan><tspan x="90" y="4057">教师要清点好人数，把路队护送到指定地点，</tspan><tspan x="90" y="4072">教育学生按时回家，严禁到有水的地方玩水。</tspan></text></g>
<g id="n-p4-3-2-4"><text class="t"><tspan x="90" y="4122">（4）要求家长与学校密切配合，加强学生放</tspan><tspan x="90" y="4137">学后、双休日、节假日的安全管理。如去有水</tspan><tspan x="90" y="4152">的地方玩耍，必须要有家长的陪同，确保孩子</tspan><tspan x="90" y="4166">的人身安全。</tspan></text></g>
<g id="n-p4-3-2-5"><text class="t"><tspan x="90" y="4218">（5）在学生当中实行监督举报制度，如发现</tspan><tspan x="90" y="4233">有玩水的同学要及时制止，立即向学校报告。</tspan></text></g>
<g id="n-p4-3-2-6"><text class="t"><tspan x="90" y="4283">（6）实行严格的责任追究制度。学校本着“</tspan><tspan x="90" y="4298">谁主管，谁负责”的原则，让人人将安全工作</tspan><tspan x="90" y="4313">记在心上，讲在口头上，抓在手头上，落在行</tspan><tspan x="90" y="4328">动上。</tspan></text></g>
<g id="n-p4-3-3"><text class="t e" x="467" y="4444">3、增强学校的应急处置能力</text></g>
<g id="n-p4-3-3-1"><text class="t"><tspan x="55" y="4378">（1）学生万一发生溺水事件，学校将通过专</tspan><tspan x="55" y="4393">门的组织机构，采取积极果断措施，及时与家</tspan><tspan x="55" y="4408">长联系，以最快的速度，送最好的医院，用最</tspan><tspan x="55" y="4423">好的医生，将损失降到最低。</tspan></text></g>
<g id="n-p4-3-3-2"><text class="t"><tspan x="55" y="4474">（2）一旦出现溺水伤亡事件，学校将及时如</tspan><tspan x="55" y="4489">实将有关情况上报教育局，并对事件做出妥善</tspan><tspan x="55" y="4504">处理。</tspan></text></g>

<g id="watermark">
<text class="w" transform="translate(650 560) rotate(-30.7)">树图 shutu.cn</text>
<text class="w" transform="translate(650 1550) rotate(-30.7)">树图 shutu.cn</text>
<text class="w" transform="translate(645 2538) rotate(-30.7)">树图 shutu.cn</text>
<text class="w" transform="translate(660 3570) rotate(-30.7)">树图 shutu.cn</text>
<text class="w" transform="translate(650 4560) rotate(-30.7)">树图 shutu.cn</text>
<text class="w" transform="translate(650 5465) rotate(-30.7)">树图 shutu.cn</text>
<text class="w" transform="translate(1925 562) rotate(-30.7)">树图 shutu.cn</text>
<text class="w" transform="translate(1921 1555) rotate(-30.7)">树图 shutu.cn</text>
<text class="w" transform="translate(1925 2559) rotate(-30.7)">树图 shutu.cn</text>
<text class="w" transform="translate(1925 3557) rotate(-30.7)">树图 shutu.cn</text>
<text class="w" transform="translate(1925 4553) rotate(-30.7)">树图 shutu.cn</text>
<text class="w" transform="translate(1925 5465) rotate(-30.7)">树图 shutu.cn</text>
</g>
</g>
</svg>
